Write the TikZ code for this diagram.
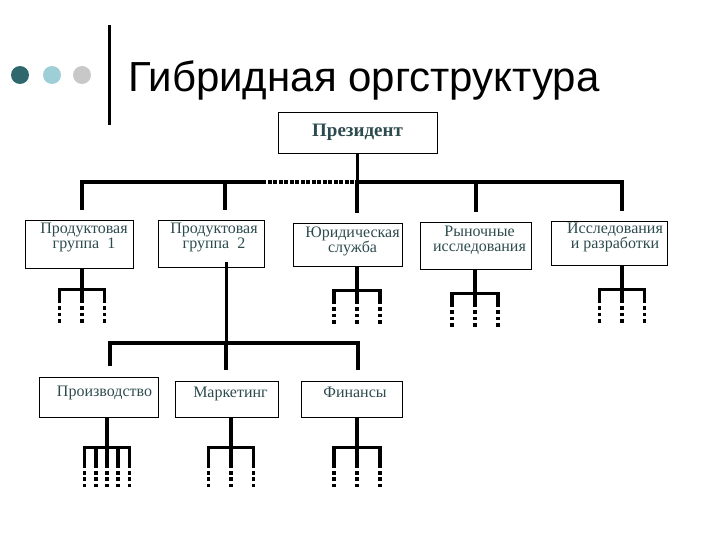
\documentclass[tikz,border=0pt]{standalone}
\usepackage{fontspec}
\setmainfont{Liberation Serif}
\newfontfamily\titlefont{Liberation Sans}
\usetikzlibrary{positioning, calc}
\definecolor{dotdark}{RGB}{46,104,108}
\definecolor{dotlight}{RGB}{158,206,214}
\definecolor{dotgrey}{RGB}{200,200,200}
\definecolor{boxink}{RGB}{45,75,78}

% fork under a unit: box, stem shift, stem length, half width, prong offsets, prong style
\newcommand{\orgfork}[6]{%
  \draw[link] ([xshift=#2pt]#1.south) -- ++(0,#3) coordinate (#1-hub);
  \draw[link, line cap=rect] ($(#1-hub)+(-#4,0)$) -- ($(#1-hub)+(#4,0)$);
  \foreach \p in {#5} {\draw[#6] ($(#1-hub)+(\p,0)$) -- ++(0,45);}%
}

\begin{document}
\begin{tikzpicture}[x=1pt, y=-1pt,
    unit/.style={draw=black, line width=0.8pt, inner sep=0pt},
    unittext/.style={font=\fontsize{16}{15}\selectfont, text=boxink, align=center, inner sep=0pt},
    link/.style={line width=3.8pt},
    dashlink/.style={line width=3.8pt, dash pattern=on 4pt off 1.5pt},
    prong/.style={line width=3.8pt, dash pattern=on 14pt off 3pt on 3.5pt off 3pt on 3.5pt off 3pt on 3.5pt off 60pt},
    prong low/.style={line width=3.8pt, dash pattern=on 21pt off 2.5pt on 4pt off 2.5pt on 4pt off 2.5pt on 3.5pt off 60pt}
]
    \useasboundingbox (0,0) rectangle (720,540);

    % Title with dots and bar
    \fill[dotdark] (20,75) circle (9pt);
    \fill[dotlight] (52,75) circle (9pt);
    \fill[dotgrey] (82,75) circle (9pt);
    \draw[line width=3pt] (109,25) -- (109,125);
    \node[font=\titlefont\fontsize{42}{48}\selectfont, anchor=base west, inner sep=0pt] (title) at (128,92) {Гибридная оргструктура};

    % President
    \node[unit, minimum width=159pt, minimum height=41pt, font=\bfseries\fontsize{19}{21}\selectfont, text=boxink] (pres) at (357.5,132.5) {Президент};

    % First level units
    \node[unit, minimum width=108pt, minimum height=48pt] (g1) at (79,244) {};
    \node[unit, minimum width=106pt, minimum height=47pt] (g2) at (211,243.5) {};
    \node[unit, minimum width=109pt, minimum height=43pt] (jur) at (347.5,244.5) {};
    \node[unit, minimum width=111pt, minimum height=47pt] (mkt) at (475.5,245.5) {};
    \node[unit, minimum width=116pt, minimum height=44pt] (rnd) at (609,243) {};

    \node[unittext, below=3.7pt of g1.north, xshift=5pt] (g1-text) {Продуктовая\\группа\enspace 1};
    \node[unittext, below=3.7pt of g2.north, xshift=3pt] (g2-text) {Продуктовая\\группа\enspace 2};
    \node[unittext, below=3.7pt of jur.north, xshift=5pt] (jur-text) {Юридическая\\служба};
    \node[unittext, below=4.7pt of mkt.north, xshift=4pt] (mkt-text) {Рыночные\\исследования};
    \node[unittext, below=2.7pt of rnd.north, xshift=6pt] (rnd-text) {Исследования\\и разработки};

    % Second level units of group 2
    \node[unit, minimum width=119pt, minimum height=40pt] (prod) at (98.5,397) {};
    \node[unit, minimum width=103pt, minimum height=36pt] (mark) at (226.5,399) {};
    \node[unit, minimum width=101pt, minimum height=36pt] (fin) at (351.5,399) {};

    \node[unittext, below=9.7pt of prod.north, xshift=6pt] (prod-text) {Производство};
    \node[unittext, below=6.7pt of mark.north, xshift=4pt] (mark-text) {Маркетинг};
    \node[unittext, below=6.7pt of fin.north, xshift=3.5pt] (fin-text) {Финансы};

    % Top bus
    \foreach \n/\x in {1/82, 2/225, 3/357, 4/476, 5/622}
        \coordinate (top\n) at (\x,182);
    \coordinate (dash-start) at (262,182);
    \draw[link] (pres.south) -- (pres.south |- top3);
    \draw[link, line cap=rect] (top1) -- (dash-start);
    \draw[dashlink] (dash-start) -- (top3);
    \draw[link, line cap=rect] (top3) -- (top5);
    \foreach \n/\u in {1/g1, 2/g2, 3/jur, 4/mkt, 5/rnd}
        \draw[link, shorten >=10pt] (top\n) -- (top\n |- \u.north);

    % Lower bus under group 2
    \foreach \n/\x in {1/110, 2/226, 3/358}
        \coordinate (low\n) at (\x,343);
    \draw[link, line width=3pt, shorten <=-5pt] (g2.south -| low2) -- (low2);
    \draw[link, line cap=rect] (low1) -- (low3);
    \foreach \n/\u in {1/prod, 2/mark, 3/fin}
        \draw[link, shorten >=11pt] (low\n) -- (low\n |- \u.north);

    % Forks
    \orgfork{g1}{3}{21}{22.5}{-22.5,0,22.5}{prong}
    \orgfork{jur}{9.5}{24}{23}{-23,0,23}{prong}
    \orgfork{mkt}{-0.5}{24}{23}{-23,0,23}{prong}
    \orgfork{rnd}{13}{24}{22.5}{-22.5,0,22.5}{prong}
    \orgfork{prod}{8.5}{30}{22.5}{-22.5,-11.25,0,11.25,22.5}{prong low}
    \orgfork{mark}{4.5}{30}{22.5}{-22.5,0,22.5}{prong low}
    \orgfork{fin}{5.5}{30}{23}{-23,0,23}{prong low}

\end{tikzpicture}
\end{document}
